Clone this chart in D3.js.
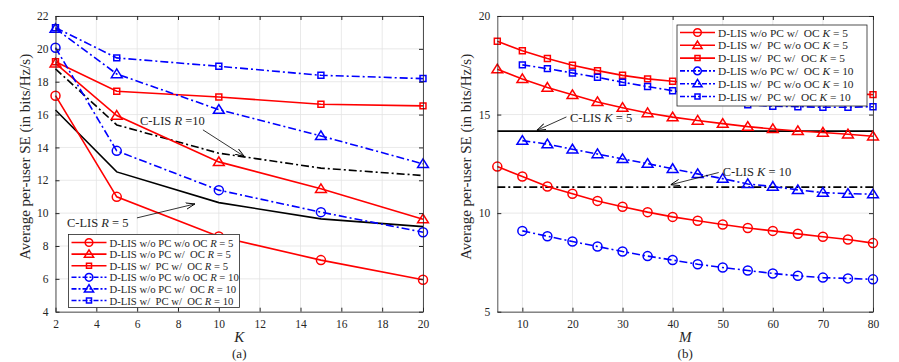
<!DOCTYPE html>
<html lang="en">
<head>
<meta charset="utf-8">
<title>Average per-user SE</title>
<script src="https://cdn.jsdelivr.net/npm/d3@7/dist/d3.min.js"></script>
<style>
  body { margin: 0; background: #fff; }
  svg text { font-family: "Liberation Serif", "DejaVu Serif", serif; fill: #262626; white-space: pre; }
  .grid line { stroke: #e3e3e3; stroke-width: 0.8; }
  .axis path, .axis line { stroke: #262626; }
  .axis text { font-size: 11.5px; }
</style>
</head>
<body>
<svg class="chart" width="899" height="362"></svg>
<script>
// ---- panel (a): SE versus K ----
var kValues = [2, 5, 10, 15, 20];
var aTicksX = [2, 4, 6, 8, 10, 12, 14, 16, 18, 20];
var aTicksY = [4, 6, 8, 10, 12, 14, 16, 18, 20, 22];

var aNoPcNoOcR5  = [17.15, 10.99, 8.58, 7.14, 5.94];
var aNoPcOcR5    = [19.12, 15.94, 13.12, 11.48, 9.63];
var aPcOcR5      = [19.22, 17.42, 17.07, 16.63, 16.53];
var aNoPcNoOcR10 = [20.07, 13.79, 11.40, 10.06, 8.84];
var aNoPcOcR10   = [21.23, 18.47, 16.30, 14.70, 13.00];
var aPcOcR10     = [21.29, 19.45, 18.94, 18.39, 18.19];
var aClisR5      = [16.28, 12.51, 10.64, 9.65, 9.18];
var aClisR10     = [18.78, 15.37, 13.65, 12.74, 12.29];

// ---- panel (b): SE versus M ----
var mRed  = [5, 10, 15, 20, 25, 30, 35, 40, 45, 50, 55, 60, 65, 70, 75, 80];
var mBlue = [10, 15, 20, 25, 30, 35, 40, 45, 50, 55, 60, 65, 70, 75, 80];
var bTicksX = [10, 20, 30, 40, 50, 60, 70, 80];
var bTicksY = [5, 10, 15, 20];

var bNoPcOcK5   = [12.36, 11.86, 11.35, 10.98, 10.62, 10.32, 10.05, 9.81, 9.61, 9.42, 9.25, 9.10, 8.95, 8.80, 8.66, 8.48];
var bPcNoOcK5   = [17.30, 16.81, 16.37, 16.00, 15.64, 15.35, 15.08, 14.87, 14.70, 14.54, 14.39, 14.27, 14.17, 14.09, 14.00, 13.90];
var bPcOcK5     = [18.72, 18.24, 17.84, 17.50, 17.23, 16.99, 16.81, 16.69, 16.56, 16.45, 16.36, 16.28, 16.21, 16.14, 16.07, 16.01];
var bNoPcOcK10  = [9.10, 8.83, 8.56, 8.31, 8.05, 7.82, 7.62, 7.41, 7.24, 7.09, 6.94, 6.82, 6.73, 6.69, 6.64];
var bPcNoOcK10  = [13.68, 13.50, 13.24, 13.00, 12.75, 12.51, 12.25, 11.99, 11.75, 11.48, 11.35, 11.18, 11.04, 10.99, 10.96];
var bPcOcK10    = [17.52, 17.33, 17.11, 16.89, 16.64, 16.42, 16.21, 16.00, 15.75, 15.50, 15.42, 15.40, 15.37, 15.37, 15.40];
var bClisK5  = 14.16;
var bClisK10 = 11.32;

var RED = "#ff0000", BLUE = "#0000ff", DASHDOT = "8,3,2,3";
var SP = "\u00a0"; // keeps the double spaces in legend texts

var svg = d3.select(".chart");
svg.append("defs").append("marker")
    .attr("id", "arrow")
    .attr("viewBox", "0 0 10 10")
    .attr("refX", 10).attr("refY", 5)
    .attr("markerWidth", 9).attr("markerHeight", 9)
    .attr("markerUnits", "userSpaceOnUse")
    .attr("orient", "auto")
  .append("path")
    .attr("d", "M0,1.5 L10,5 L0,8.5")
    .attr("fill", "none")
    .attr("stroke", "#000")
    .attr("stroke-width", 1);

function markerPath(shape, size) {
  if (shape == "circle") return d3.symbol(d3.symbolCircle, size * size * Math.PI / 4)();
  if (shape == "triangle") {
    var h = size * 0.9, w = size * 0.6;
    return "M0," + (-h * 0.62) + "L" + w + "," + (h * 0.45) + "L" + (-w) + "," + (h * 0.45) + "Z";
  }
  return d3.symbol(d3.symbolSquare, size * size * 0.55)();
}

function drawPanel(p) {
  var x = d3.scaleLinear().domain(p.xDomain).range([p.left, p.right]);
  var y = d3.scaleLinear().domain(p.yDomain).range([p.bottom, p.top]);
  var g = svg.append("g");

  // grid
  var grid = g.append("g").attr("class", "grid");
  grid.selectAll(".gx").data(p.xTicks).enter().append("line")
      .attr("x1", x).attr("x2", x).attr("y1", p.top).attr("y2", p.bottom);
  grid.selectAll(".gy").data(p.yTicks).enter().append("line")
      .attr("y1", y).attr("y2", y).attr("x1", p.left).attr("x2", p.right);

  // series
  p.series.forEach(function(s) {
    var pts = s.x.map(function(v, i) { return [v, s.y[i]]; });
    g.append("path")
        .datum(pts)
        .attr("fill", "none")
        .attr("stroke", s.color)
        .attr("stroke-width", 1.6)
        .attr("stroke-dasharray", s.dash || null)
        .attr("d", d3.line().x(function(d) { return x(d[0]); }).y(function(d) { return y(d[1]); }));
    if (s.marker) {
      g.selectAll(null).data(pts).enter().append("path")
          .attr("transform", function(d) { return "translate(" + x(d[0]) + "," + y(d[1]) + ")"; })
          .attr("d", markerPath(s.marker, s.msize))
          .attr("fill", "none")
          .attr("stroke", s.color)
          .attr("stroke-width", 1.5);
    }
  });

  // annotations
  p.notes.forEach(function(n) {
    var t = g.append("text")
        .attr("x", x(n.at[0])).attr("y", y(n.at[1]))
        .attr("font-size", "12.5px");
    t.append("tspan").text("C-LIS ");
    t.append("tspan").attr("font-style", "italic").text(n.v);
    t.append("tspan").text(n.eq);
    g.append("line")
        .attr("x1", x(n.from[0])).attr("y1", y(n.from[1]))
        .attr("x2", x(n.to[0])).attr("y2", y(n.to[1]))
        .attr("stroke", "#000").attr("stroke-width", 0.8)
        .attr("marker-end", "url(#arrow)");
  });

  // axes (MATLAB style box, ticks inside)
  g.append("g").attr("class", "axis")
      .attr("transform", "translate(0," + p.bottom + ")")
      .call(d3.axisBottom(x).tickValues(p.xTicks).tickSize(-4).tickPadding(8).tickSizeOuter(0));
  g.append("g").attr("class", "axis")
      .attr("transform", "translate(0," + p.top + ")")
      .call(d3.axisTop(x).tickValues(p.xTicks).tickSize(-4).tickFormat("").tickSizeOuter(0));
  g.append("g").attr("class", "axis")
      .attr("transform", "translate(" + p.left + ",0)")
      .call(d3.axisLeft(y).tickValues(p.yTicks).tickSize(-4).tickPadding(7).tickSizeOuter(0));
  g.append("g").attr("class", "axis")
      .attr("transform", "translate(" + p.right + ",0)")
      .call(d3.axisRight(y).tickValues(p.yTicks).tickSize(-4).tickFormat("").tickSizeOuter(0));
  g.selectAll(".axis path").attr("stroke-width", 0.8);
  g.selectAll(".axis text").attr("fill", "#262626");

  // axis labels
  var cx = (p.left + p.right) / 2;
  g.append("text").attr("x", cx).attr("y", p.bottom + 30)
      .attr("text-anchor", "middle").attr("font-size", "15px").attr("font-style", "italic")
      .text(p.xLabel);
  g.append("text").attr("x", cx).attr("y", p.bottom + 46)
      .attr("text-anchor", "middle").attr("font-size", "13px")
      .text(p.caption);
  g.append("text")
      .attr("transform", "translate(" + (p.left - 26) + "," + ((p.top + p.bottom) / 2 - 7) + ") rotate(-90)")
      .attr("text-anchor", "middle").attr("font-size", "15px")
      .text("Average per-user SE (in bits/Hz/s)");

  // legend
  var L = p.legend;
  var lg = g.append("g");
  lg.append("rect")
      .attr("x", L.x).attr("y", L.y).attr("width", L.w).attr("height", L.h)
      .attr("fill", "#fff").attr("stroke", "#262626").attr("stroke-width", 0.8);
  p.series.filter(function(s) { return s.label; }).forEach(function(s, i) {
    var yy = L.y + L.first + i * L.step;
    lg.append("line")
        .attr("x1", L.x + 3).attr("x2", L.x + 38).attr("y1", yy).attr("y2", yy)
        .attr("stroke", s.color).attr("stroke-width", 1.6)
        .attr("stroke-dasharray", s.dash ? "5,2,2,2" : null);
    lg.append("path")
        .attr("transform", "translate(" + (L.x + 20.5) + "," + yy + ")")
        .attr("d", markerPath(s.marker, s.msize * 0.85))
        .attr("fill", "none").attr("stroke", s.color).attr("stroke-width", 1.5);
    var t = lg.append("text").attr("x", L.x + 41).attr("y", yy + 4).attr("font-size", L.font);
    t.append("tspan").text(s.label[0].replace(/  /g, " " + SP));
    t.append("tspan").attr("font-style", "italic").text(s.label[1]);
    t.append("tspan").text(s.label[2]);
  });
}

drawPanel({
  left: 55.5, right: 423, top: 16, bottom: 311.7,
  xDomain: [2, 20], yDomain: [4, 22],
  xTicks: aTicksX, yTicks: aTicksY,
  xLabel: "K", caption: "(a)",
  series: [
    { x: kValues, y: aClisR5,  color: "#000" },
    { x: kValues, y: aClisR10, color: "#000", dash: DASHDOT },
    { x: kValues, y: aNoPcNoOcR5,  color: RED,  marker: "circle",   msize: 9, label: ["D-LIS w/o PC w/o OC ", "R", " = 5"] },
    { x: kValues, y: aNoPcOcR5,    color: RED,  marker: "triangle", msize: 9, label: ["D-LIS w/o PC w/  OC ", "R", " = 5"] },
    { x: kValues, y: aPcOcR5,      color: RED,  marker: "square",   msize: 8, label: ["D-LIS w/  PC w/  OC ", "R", " = 5"] },
    { x: kValues, y: aNoPcNoOcR10, color: BLUE, marker: "circle",   msize: 9, dash: DASHDOT, label: ["D-LIS w/o PC w/o OC ", "R", " = 10"] },
    { x: kValues, y: aNoPcOcR10,   color: BLUE, marker: "triangle", msize: 9, dash: DASHDOT, label: ["D-LIS w/o PC w/  OC ", "R", " = 10"] },
    { x: kValues, y: aPcOcR10,     color: BLUE, marker: "square",   msize: 8, dash: DASHDOT, label: ["D-LIS w/  PC w/  OC ", "R", " = 10"] }
  ],
  notes: [
    { at: [6.14, 15.37], v: "R", eq: " =10", from: [9.22, 15.07], to: [11.25, 13.45] },
    { at: [2.56, 9.17],  v: "R", eq: " = 5",  from: [5.99, 9.71],  to: [8.83, 10.56] }
  ],
  legend: { x: 68.5, y: 234.5, w: 171, h: 73, first: 8, step: 11.6, font: "10.7px" }
});

drawPanel({
  left: 497.3, right: 873, top: 16, bottom: 311.7,
  xDomain: [5, 80], yDomain: [5, 20],
  xTicks: bTicksX, yTicks: bTicksY,
  xLabel: "M", caption: "(b)",
  series: [
    { x: [5, 80], y: [bClisK5, bClisK5],   color: "#000" },
    { x: [5, 80], y: [bClisK10, bClisK10], color: "#000", dash: DASHDOT },
    { x: mRed,  y: bNoPcOcK5,  color: RED,  marker: "circle",   msize: 9, label: ["D-LIS w/o PC w/  OC ", "K", " = 5"] },
    { x: mRed,  y: bPcNoOcK5,  color: RED,  marker: "triangle", msize: 9, label: ["D-LIS w/  PC w/o OC ", "K", " = 5"] },
    { x: mRed,  y: bPcOcK5,    color: RED,  marker: "square",   msize: 8, label: ["D-LIS w/  PC w/  OC ", "K", " = 5"] },
    { x: mBlue, y: bNoPcOcK10, color: BLUE, marker: "circle",   msize: 9, dash: DASHDOT, label: ["D-LIS w/o PC w/  OC ", "K", " = 10"] },
    { x: mBlue, y: bPcNoOcK10, color: BLUE, marker: "triangle", msize: 9, dash: DASHDOT, label: ["D-LIS w/  PC w/o OC ", "K", " = 10"] },
    { x: mBlue, y: bPcOcK10,   color: BLUE, marker: "square",   msize: 8, dash: DASHDOT, label: ["D-LIS w/  PC w/  OC ", "K", " = 10"] }
  ],
  notes: [
    { at: [19.5, 14.63], v: "K", eq: " = 5",  from: [18.8, 14.88], to: [12.9, 14.2] },
    { at: [50.0, 11.9],  v: "K", eq: " = 10", from: [49.2, 12.06], to: [39.6, 11.44] }
  ],
  legend: { x: 677, y: 25, w: 190, h: 81, first: 7.5, step: 12.8, font: "11.4px" }
});
</script>
</body>
</html>
